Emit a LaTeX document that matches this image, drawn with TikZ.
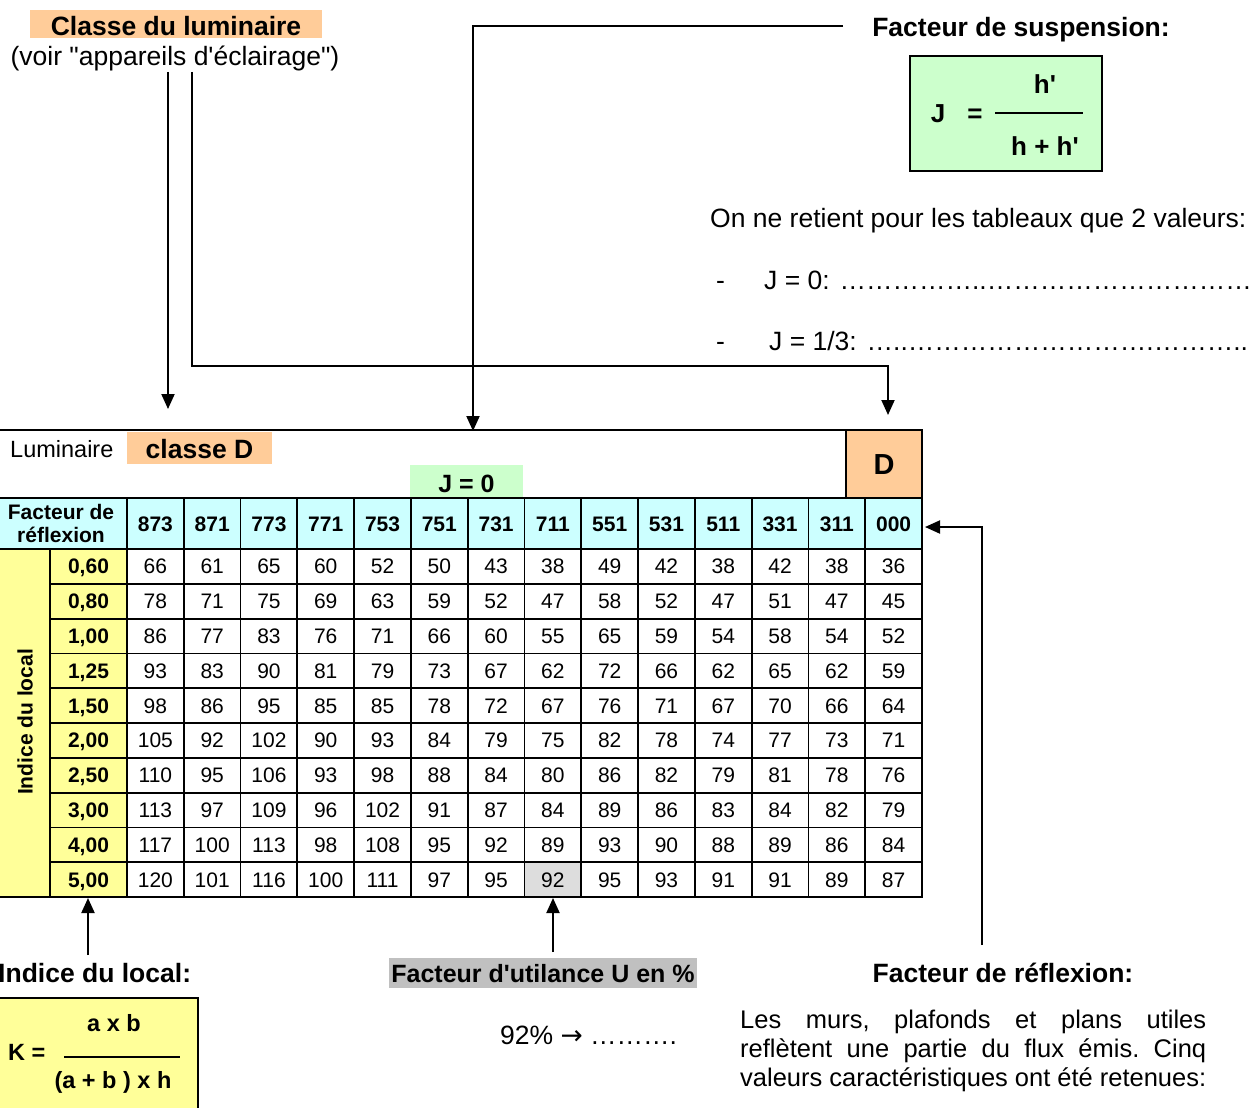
\documentclass[tikz,border=0pt]{standalone}
\usepackage{fontspec}
\setmainfont{Liberation Sans}
\newfontfamily\plainarial{Liberation Sans}
\newfontfamily\djv{DejaVu Sans}
\newcommand\myap{{\plainarial'}}
\newcommand\mydq{{\plainarial"}}
\usetikzlibrary{arrows.meta}
\definecolor{orng}{HTML}{FFCC99}
\definecolor{ylw}{HTML}{FFFF99}
\definecolor{grn}{HTML}{CCFFCC}
\definecolor{cyn}{HTML}{CCFFFF}
\definecolor{gry}{HTML}{C0C0C0}
\definecolor{lgry}{HTML}{DDDDDD}
\begin{document}
\begin{tikzpicture}[x=1pt,y=-1pt,
 txt/.style={inner sep=0pt},
 fbig/.style={txt,font=\fontsize{26.5}{30}\selectfont},
 fbigb/.style={txt,font=\fontsize{26.5}{30}\selectfont\bfseries},
 fpara/.style={txt,font=\fontsize{25.5}{29}\selectfont},
 fform/.style={txt,font=\fontsize{26}{30}\selectfont\bfseries},
 fk/.style={txt,font=\fontsize{23.5}{26}\selectfont\bfseries},
 cellv/.style={txt,font=\fontsize{21}{24}\selectfont,text height=15pt,text depth=0pt},
 cellb/.style={txt,font=\fontsize{21}{24}\selectfont\bfseries,text height=15pt,text depth=0pt},
 gridline/.style={line width=1.8pt},
 conn/.style={line width=2pt,-{Triangle[width=13pt,length=15pt]}},
 labbox/.style={inner sep=0pt,text height=#1,text depth=0pt},
]
\useasboundingbox (0,0) rectangle (1251,1108);

% ---------- top left
\node[fbigb,labbox=24pt,fill=orng,minimum width=292pt,minimum height=28pt] (cl) at (176,24) {Classe du luminaire};
\node[fbig,anchor=base] (voir) at (175,66) {(voir \mydq appareils d\myap éclairage\mydq)};

% ---------- top right
\node[fbigb,anchor=base] (fs) at (1021,37) {Facteur de suspension:};
\node[draw=black,line width=1.8pt,fill=grn,minimum width=192pt,minimum height=115pt,inner sep=0pt] (jbox) at (1006,113.5) {};
\node[fform,anchor=base] (jJ) at (938,122) {J};
\node[fform,anchor=base] (jeq) at (975,122) {=};
\node[fform,anchor=base] (jnum) at (1045,93) {h\myap};
\node[fform,anchor=base] (jden) at (1045,155) {h + h\myap};
\coordinate (jl1) at (995,113);
\coordinate (jl2) at (1083,113);
\draw[line width=1.5pt] (jl1) -- (jl2);

\node[fbig,anchor=base west] (onne) at (710,227) {On ne retient pour les tableaux que 2 valeurs:};
\node[fbig,anchor=base west] (d1) at (716,289) {-};
\node[fbig,anchor=base west] (j0) at (764,289) {J = 0: ……………..…………………………};
\node[fbig,anchor=base west] (d2) at (716,350) {-};
\node[fbig,anchor=base west] (j13) at (769,350) {J = 1/3: …..……………………….………..};

% ---------- table fills
\fill[cyn] (0,498) rectangle (922,549);
\fill[ylw] (0,549) rectangle (127,897);
\fill[lgry] ({127+7*56.7857},{549+9*34.8}) rectangle ({127+8*56.7857},897);

\node[fbig,anchor=base west,font=\fontsize{23.5}{28}\selectfont] (lum) at (10,457.5) {Luminaire};
\node[fbigb,labbox=20pt,fill=orng,minimum width=145pt,minimum height=32pt] (clD) at (199.5,448) {classe D};
\node[txt,font=\fontsize{25}{30}\selectfont\bfseries,labbox=21pt,fill=grn,minimum width=113pt,minimum height=33pt] (jzero) at (466.5,481.5) {J = 0};
\node[txt,font=\fontsize{29}{32}\selectfont\bfseries,labbox=21pt,fill=orng,minimum width=76pt,minimum height=68pt] (Dbox) at (884,464) {D};

% ---------- table lines
\draw[gridline] (0,430) -- (922,430) -- (922,897) -- (0,897);
\draw[gridline] (846,430) -- (846,498);
\draw[gridline] (0,498) -- (922,498);
\draw[gridline] (0,549) -- (922,549);
\draw[gridline] (50,549) -- (50,897);
\draw[gridline] (127,498) -- (127,897);
\foreach \i in {1,...,13} \draw[gridline] ({127+\i*56.7857},498) -- ({127+\i*56.7857},897);
\foreach \j in {1,...,9} \draw[gridline] (50,{549+\j*34.8}) -- (922,{549+\j*34.8});

% ---------- table texts
\node[cellb,anchor=base,text height=,text depth=] (fr1) at (61,519.5) {Facteur de};
\node[cellb,anchor=base,text height=,text depth=] (fr2) at (61,542.5) {réflexion};
\foreach \c [count=\i from 0] in {873,871,773,771,753,751,731,711,551,531,511,331,311,000}
  \node[cellb] (h\i) at ({127+(\i+0.5)*56.7857},523.5) {\c};
\node[cellb,rotate=90] (idl) at (25,722) {Indice du local};
\foreach \lab [count=\j from 0] in {0{,}60,0{,}80,1{,}00,1{,}25,1{,}50,2{,}00,2{,}50,3{,}00,4{,}00,5{,}00}
  \node[cellb] (r\j) at (88.5,{549+(\j+0.5)*34.8}) {\lab};
\foreach \row [count=\j from 0] in {
 {66,61,65,60,52,50,43,38,49,42,38,42,38,36},
 {78,71,75,69,63,59,52,47,58,52,47,51,47,45},
 {86,77,83,76,71,66,60,55,65,59,54,58,54,52},
 {93,83,90,81,79,73,67,62,72,66,62,65,62,59},
 {98,86,95,85,85,78,72,67,76,71,67,70,66,64},
 {105,92,102,90,93,84,79,75,82,78,74,77,73,71},
 {110,95,106,93,98,88,84,80,86,82,79,81,78,76},
 {113,97,109,96,102,91,87,84,89,86,83,84,82,79},
 {117,100,113,98,108,95,92,89,93,90,88,89,86,84},
 {120,101,116,100,111,97,95,92,95,93,91,91,89,87}}
 {\foreach \v [count=\i from 0] in \row
   \node[cellv] (c\j-\i) at ({127+(\i+0.5)*56.7857},{549+(\j+0.5)*34.8}) {\v};}

% ---------- bottom left
\node[fbigb,anchor=base west] (idlt) at (-2,982) {Indice du local:};
\node[draw=black,line width=1.8pt,fill=ylw,minimum width=200pt,minimum height=116pt,inner sep=0pt] (kbox) at (98,1056) {};
\node[fk,anchor=base west] (kK) at (8,1060) {K =};
\node[fk,anchor=base] (knum) at (114,1031) {a x b};
\node[fk,anchor=base] (kden) at (113,1088) {(a + b ) x h};
\coordinate (kl1) at (64,1057);
\coordinate (kl2) at (180,1057);
\draw[line width=1.5pt] (kl1) -- (kl2);

% ---------- bottom middle
\node[txt,font=\fontsize{25}{30}\selectfont\bfseries,labbox=18pt,fill=gry,minimum width=308pt,minimum height=30pt] (fu) at (543,973) {Facteur d\myap utilance U en \%};
\node[fbig,anchor=base west] (pct) at (500,1044) {92\% {\djv →} ……….};

% ---------- bottom right
\node[fbigb,anchor=base] (frt) at (1003,982) {Facteur de réflexion:};
\node[fpara,anchor=base west] (p1) at (740,1028) {\hbox to 466pt{Les\hfill murs,\hfill plafonds\hfill et\hfill plans\hfill utiles}};
\node[fpara,anchor=base west] (p2) at (740,1057) {\hbox to 466pt{reflètent\hfill une\hfill partie\hfill du\hfill flux\hfill émis.\hfill Cinq}};
\node[fpara,anchor=base west] (p3) at (740,1086) {\hbox to 466pt{valeurs\hfill caractéristiques\hfill ont\hfill été\hfill retenues:}};

% ---------- connectors
\coordinate (a1s) at (168,72);
\coordinate (a1e) at (168,409);
\draw[conn] (a1s) -- (a1e);
\coordinate (a2s) at (192,72);
\coordinate (a2k) at (888,366);
\coordinate (a2e) at (888,415);
\draw[conn] (a2s) |- (a2k) -- (a2e);
\coordinate (a3s) at (843,26);
\coordinate (a3e) at (473,431);
\draw[conn] (a3s) -| (a3e);
\coordinate (a4s) at (982,945);
\coordinate (a4e) at (925,527);
\draw[conn] (a4s) |- (a4e);
\coordinate (a5s) at (88,955);
\coordinate (a5e) at (88,898);
\draw[conn] (a5s) -- (a5e);
\coordinate (a6s) at (553,952);
\coordinate (a6e) at (553,898);
\draw[conn] (a6s) -- (a6e);
\end{tikzpicture}
\end{document}
